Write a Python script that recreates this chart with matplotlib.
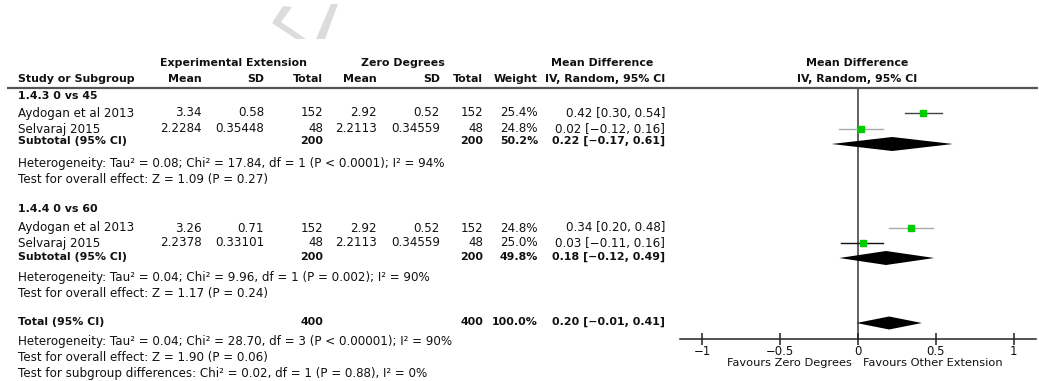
import matplotlib
matplotlib.use("Agg")
import matplotlib.pyplot as plt
from matplotlib.patches import Polygon

# ---------------- data ----------------
subgroup_titles = ["1.4.3 0 vs 45", "1.4.4 0 vs 60"]
study_names = ["Aydogan et al 2013", "Selvaraj 2015"]

exp_mean = [["3.34", "2.2284"], ["3.26", "2.2378"]]
exp_sd = [["0.58", "0.35448"], ["0.71", "0.33101"]]
exp_n = [[152, 48], [152, 48]]
ctl_mean = [["2.92", "2.2113"], ["2.92", "2.2113"]]
ctl_sd = [["0.52", "0.34559"], ["0.52", "0.34559"]]
ctl_n = [[152, 48], [152, 48]]
weights = [[25.4, 24.8], [24.8, 25.0]]
md = [[0.42, 0.02], [0.34, 0.03]]
md_lo = [[0.30, -0.12], [0.20, -0.11]]
md_hi = [[0.54, 0.16], [0.48, 0.16]]

sub_n_exp = [200, 200]
sub_n_ctl = [200, 200]
sub_weight = [50.2, 49.8]
sub_md = [0.22, 0.18]
sub_lo = [-0.17, -0.12]
sub_hi = [0.61, 0.49]
sub_het = [
    "Heterogeneity: Tau² = 0.08; Chi² = 17.84, df = 1 (P < 0.0001); I² = 94%",
    "Heterogeneity: Tau² = 0.04; Chi² = 9.96, df = 1 (P = 0.002); I² = 90%",
]
sub_test = [
    "Test for overall effect: Z = 1.09 (P = 0.27)",
    "Test for overall effect: Z = 1.17 (P = 0.24)",
]

tot_n_exp = 400
tot_n_ctl = 400
tot_weight = 100.0
tot_md = 0.20
tot_lo = -0.01
tot_hi = 0.41
tot_notes = [
    "Heterogeneity: Tau² = 0.04; Chi² = 28.70, df = 3 (P < 0.00001); I² = 90%",
    "Test for overall effect: Z = 1.90 (P = 0.06)",
    "Test for subgroup differences: Chi² = 0.02, df = 1 (P = 0.88), I² = 0%",
]

x_ticks = [-1, -0.5, 0, 0.5, 1]
favours_left = "Favours Zero Degrees"
favours_right = "Favours Other Extension"

# ---------------- layout (pixel coordinates) ----------------
W, H = 1039, 381
FS = 8.6      # regular text
FSB = 7.95    # bold text
TXT = "#111111"

row_study = [[113, 129], [228, 243]]
row_title = [96, 209]
row_sub = [141, 257]
row_het = [163, 278]
row_test = [180, 293]
row_total = 322
row_tot_notes = [341, 357, 374]
diamond_y = [144, 258]
total_diamond_y = 323
ci_colors = [["#444444", "#aaaaaa"], ["#aaaaaa", "#111111"]]

col_name = 18
col_emean, col_esd, col_en = 202, 264, 323
col_cmean, col_csd, col_cn = 377, 440, 483
col_w, col_ci = 538, 665

fig = plt.figure(figsize=(W / 100, H / 100), dpi=100)
fig.patch.set_facecolor("white")

tx = fig.add_axes([0, 0, 1, 1])
tx.set_xlim(0, W)
tx.set_ylim(H, 0)
tx.axis("off")


def t(x, y, s, ha="left", bold=False, size=None, color=TXT):
    if size is None:
        size = FSB if bold else FS
    tx.text(x, y, s, ha=ha, va="center", fontsize=size,
            fontweight="bold" if bold else "normal", color=color)


def fmt_ci(m, lo, hi):
    f = lambda v: f"{v:.2f}".replace("-", "\u2212")
    return f"{f(m)} [{f(lo)}, {f(hi)}]"


# faint watermark fragment at the top
tx.add_patch(Polygon([(283, 6), (292, 7), (281, 22), (306, 39), (296, 39), (272, 23)],
                     closed=True, color="#dcdcdc", lw=0))
tx.add_patch(Polygon([(331, 4), (338, 4), (325, 39), (316, 39)],
                     closed=True, color="#dcdcdc", lw=0))

# header
t(234, 63, "Experimental Extension", ha="center", bold=True)
t(403, 63, "Zero Degrees", ha="center", bold=True)
t(602, 63, "Mean Difference", ha="center", bold=True)
t(857, 63, "Mean Difference", ha="center", bold=True)
t(col_name, 79, "Study or Subgroup", bold=True)
t(col_emean, 79, "Mean", ha="right", bold=True)
t(col_esd, 79, "SD", ha="right", bold=True)
t(col_en, 79, "Total", ha="right", bold=True)
t(col_cmean, 79, "Mean", ha="right", bold=True)
t(col_csd, 79, "SD", ha="right", bold=True)
t(col_cn, 79, "Total", ha="right", bold=True)
t(col_w, 79, "Weight", ha="right", bold=True)
t(col_ci, 79, "IV, Random, 95% CI", ha="right", bold=True)
t(857, 79, "IV, Random, 95% CI", ha="center", bold=True)
tx.plot([7, 1038], [88, 88], color="#555555", lw=1.6, solid_capstyle="butt")

# table body
for g in range(2):
    t(col_name, row_title[g], subgroup_titles[g], bold=True)
    for i in range(2):
        y = row_study[g][i]
        t(col_name, y, study_names[i])
        t(col_emean, y, exp_mean[g][i], ha="right")
        t(col_esd, y, exp_sd[g][i], ha="right")
        t(col_en, y, str(exp_n[g][i]), ha="right")
        t(col_cmean, y, ctl_mean[g][i], ha="right")
        t(col_csd, y, ctl_sd[g][i], ha="right")
        t(col_cn, y, str(ctl_n[g][i]), ha="right")
        t(col_w, y, f"{weights[g][i]:.1f}%", ha="right")
        t(col_ci, y, fmt_ci(md[g][i], md_lo[g][i], md_hi[g][i]), ha="right")
    y = row_sub[g]
    t(col_name, y, "Subtotal (95% CI)", bold=True)
    t(col_en, y, str(sub_n_exp[g]), ha="right", bold=True)
    t(col_cn, y, str(sub_n_ctl[g]), ha="right", bold=True)
    t(col_w, y, f"{sub_weight[g]:.1f}%", ha="right", bold=True)
    t(col_ci, y, fmt_ci(sub_md[g], sub_lo[g], sub_hi[g]), ha="right", bold=True)
    t(col_name, row_het[g], sub_het[g])
    t(col_name, row_test[g], sub_test[g])

t(col_name, row_total, "Total (95% CI)", bold=True)
t(col_en, row_total, str(tot_n_exp), ha="right", bold=True)
t(col_cn, row_total, str(tot_n_ctl), ha="right", bold=True)
t(col_w, row_total, f"{tot_weight:.1f}%", ha="right", bold=True)
t(col_ci, row_total, fmt_ci(tot_md, tot_lo, tot_hi), ha="right", bold=True)
for y, s in zip(row_tot_notes, tot_notes):
    t(col_name, y, s)

# ---------------- forest panel ----------------
ax_l, ax_r, ax_top, ax_bot = 680, 1036, 88, 339
fx = fig.add_axes([ax_l / W, (H - ax_bot) / H, (ax_r - ax_l) / W, (ax_bot - ax_top) / H])
fx.set_xlim(-1.143, 1.143)
fx.set_ylim(ax_bot, ax_top)
fx.patch.set_alpha(0)
for s in ("left", "right", "top"):
    fx.spines[s].set_visible(False)
fx.spines["bottom"].set_linewidth(1.1)
fx.spines["bottom"].set_color("#222222")
fx.set_yticks([])
fx.set_xticks(x_ticks)
fx.set_xticklabels([("%g" % v).replace("-", "\u2212") for v in x_ticks],
                   fontsize=8.4, color=TXT)
fx.tick_params(axis="x", direction="inout", length=8, width=1.1, pad=0.5, color="#222222")

fx.plot([0, 0], [ax_top, ax_bot], color="#555555", lw=1.3, clip_on=False, zorder=1)

for g in range(2):
    for i in range(2):
        y = row_study[g][i]
        fx.plot([md_lo[g][i], md_hi[g][i]], [y, y], color=ci_colors[g][i], lw=1.0, zorder=2)
        fx.plot(md[g][i], y, marker="s", ms=4.6, color="#00cc00", mec="#00cc00", zorder=3)
    yd = diamond_y[g]
    fx.fill([sub_lo[g], sub_md[g], sub_hi[g], sub_md[g]],
            [yd, yd - 7, yd, yd + 7], color="black", lw=0, zorder=3)

fx.fill([tot_lo, tot_md, tot_hi, tot_md],
        [total_diamond_y, total_diamond_y - 6.5, total_diamond_y, total_diamond_y + 6.5],
        color="black", lw=0, zorder=3)

t(852, 363, favours_left, ha="right", size=8.2)
t(863, 363, favours_right, ha="left", size=8.2)

fig.savefig("out.png", dpi=100, facecolor="white")
